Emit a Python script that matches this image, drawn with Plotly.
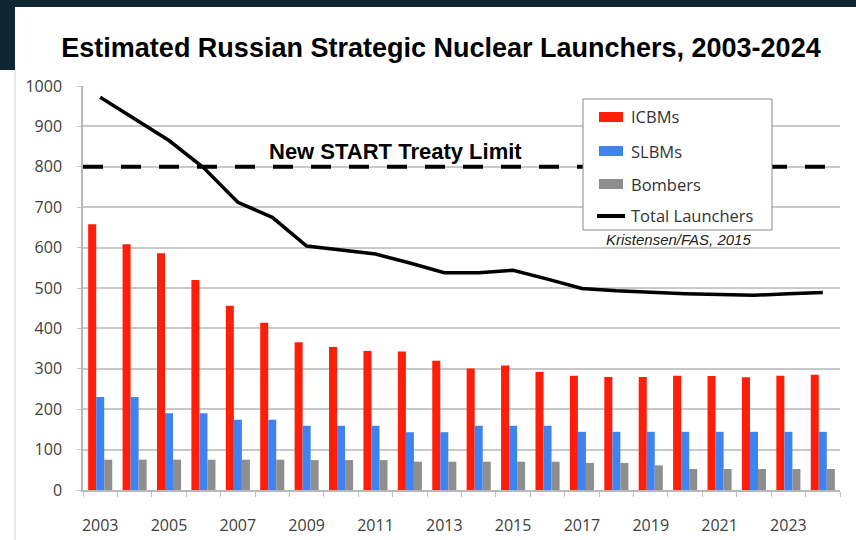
import plotly.graph_objects as go

# ---------------- data ----------------
YEARS = list(range(2003, 2025))
ICBMS = [658, 608, 586, 520, 456, 414, 366, 354, 344, 343, 320, 301, 308, 292,
         283, 280, 280, 283, 282, 279, 283, 285]
SLBMS = [230, 230, 190, 190, 174, 174, 159, 159, 159, 143, 143, 159, 159, 159,
         144, 144, 144, 144, 144, 144, 144, 144]
BOMBERS = [75, 75, 75, 75, 75, 75, 74, 74, 74, 70, 70, 70, 70, 70,
           67, 67, 61, 52, 52, 52, 52, 52]
TOTAL = [972, 919, 865, 798, 712, 675, 604, 594, 584, 562, 538, 538, 544, 522,
         499, 493, 489, 486, 484, 482, 486, 489]
TREATY_LIMIT = 800
TREATY_LABEL = "New START Treaty Limit"
TITLE = "Estimated Russian Strategic Nuclear Launchers, 2003-2024"
SOURCE = "Kristensen/FAS, 2015"
SERIES_NAMES = ["ICBMs", "SLBMs", "Bombers", "Total Launchers"]
X_TICK_YEARS = YEARS[::2]
Y_TICKS = list(range(0, 1001, 100))

# ---------------- styles ----------------
COLORS = ["#FF1E0A", "#3F83F1", "#8E8E8E", "#000000"]
DARK = "#0d2631"
W, H = 856, 540
ML, MR, MT, MB = 83, 16, 86, 50
PW, PH = W - ML - MR, H - MT - MB
ARIAL = "Arial, 'Liberation Sans', sans-serif"
SANS = "'Open Sans', sans-serif"


def px(x):
    return (x - ML) / PW


def py(y):
    return (H - MB - y) / PH


fig = go.Figure()
for name, vals, col in zip(SERIES_NAMES[:3], [ICBMS, SLBMS, BOMBERS], COLORS[:3]):
    fig.add_trace(go.Bar(x=YEARS, y=vals, name=name, marker=dict(color=col, line=dict(width=0)),
                         showlegend=False))
fig.add_trace(go.Scatter(x=YEARS, y=TOTAL, name=SERIES_NAMES[3], mode="lines",
                         line=dict(color=COLORS[3], width=3.5), showlegend=False))

shapes = [
    # dark frame pieces
    dict(type="rect", xref="paper", yref="paper", x0=px(0), x1=px(W), y0=py(0), y1=py(7),
         fillcolor=DARK, line=dict(width=0)),
    dict(type="rect", xref="paper", yref="paper", x0=px(0), x1=px(15), y0=py(0), y1=py(70),
         fillcolor=DARK, line=dict(width=0)),
    dict(type="line", xref="paper", yref="paper", x0=px(15), x1=px(15), y0=py(70), y1=py(H),
         line=dict(color="#d4d4d4", width=1)),
    # treaty limit
    dict(type="line", xref="paper", yref="y", x0=0, x1=1, y0=TREATY_LIMIT, y1=TREATY_LIMIT,
         line=dict(color="black", width=4, dash="20px,18px")),
    # legend box
    dict(type="rect", xref="paper", yref="paper", x0=px(583), x1=px(772), y0=py(99), y1=py(230),
         fillcolor="white", line=dict(color="#8a8a8a", width=1)),
]
legend_y = [117, 151, 184, 216]
for i, col in enumerate(COLORS[:3]):
    shapes.append(dict(type="rect", xref="paper", yref="paper", x0=px(599), x1=px(623),
                       y0=py(legend_y[i] - 5), y1=py(legend_y[i] + 5),
                       fillcolor=col, line=dict(width=0)))
shapes.append(dict(type="line", xref="paper", yref="paper", x0=px(597), x1=px(625),
                   y0=py(legend_y[3]), y1=py(legend_y[3]), line=dict(color="black", width=4)))

annotations = [
    dict(text=TREATY_LABEL, xref="paper", yref="paper", x=px(395), y=py(151),
         xanchor="center", yanchor="middle", showarrow=False,
         font=dict(family=ARIAL, size=22, color="black", weight="bold")),
    dict(text=SOURCE, xref="paper", yref="paper", x=px(678), y=py(239),
         xanchor="center", yanchor="middle", showarrow=False,
         font=dict(family=ARIAL, size=15, color="#222", style="italic")),
]
for i, name in enumerate(SERIES_NAMES):
    annotations.append(dict(text=name, xref="paper", yref="paper", x=px(629), y=py(legend_y[i]),
                            xanchor="left", yanchor="middle", showarrow=False,
                            font=dict(family=SANS, size=16.5, color="#333")))

boundaries = [y - 0.5 for y in YEARS] + [YEARS[-1] + 0.5]

fig.update_layout(
    width=W, height=H,
    margin=dict(l=ML, r=MR, t=MT, b=MB, autoexpand=False),
    paper_bgcolor="white", plot_bgcolor="white",
    barmode="group", bargap=0.3, bargroupgap=0,
    title=dict(text=TITLE, x=441 / W, xanchor="center", y=1 - 48 / H, yanchor="middle",
               xref="container", yref="container", automargin=False,
               font=dict(family=ARIAL, size=27, color="black", weight="bold")),
    xaxis=dict(range=[YEARS[0] - 0.5, YEARS[-1] + 0.5], tickmode="array",
               tickvals=X_TICK_YEARS, ticktext=[str(y) for y in X_TICK_YEARS],
               ticks="", showgrid=False, showline=True, linecolor="#b8b8b8", linewidth=1.5,
               tickfont=dict(family=SANS, size=16, color="#404040"), ticklabelstandoff=20,
               minor=dict(tickmode="array", tickvals=boundaries, ticks="outside", ticklen=5,
                          tickcolor="#c0c0c0", showgrid=False),
               zeroline=False, fixedrange=True, automargin=False),
    yaxis=dict(range=[0, 1000], tickmode="array", tickvals=Y_TICKS,
               showgrid=True, gridcolor="#c8c8c8", gridwidth=1.5,
               showline=True, linecolor="#b8b8b8", linewidth=1.5,
               ticks="outside", ticklen=4, tickcolor="#c0c0c0",
               tickfont=dict(family=SANS, size=16, color="#404040"), ticklabelstandoff=12,
               zeroline=False, fixedrange=True, automargin=False),
    shapes=shapes, annotations=annotations, showlegend=False,
)

fig.write_html(
    "out.html",
    config={"displayModeBar": False},
    post_script="document.body.style.margin='0';document.body.style.overflow='hidden';",
)
